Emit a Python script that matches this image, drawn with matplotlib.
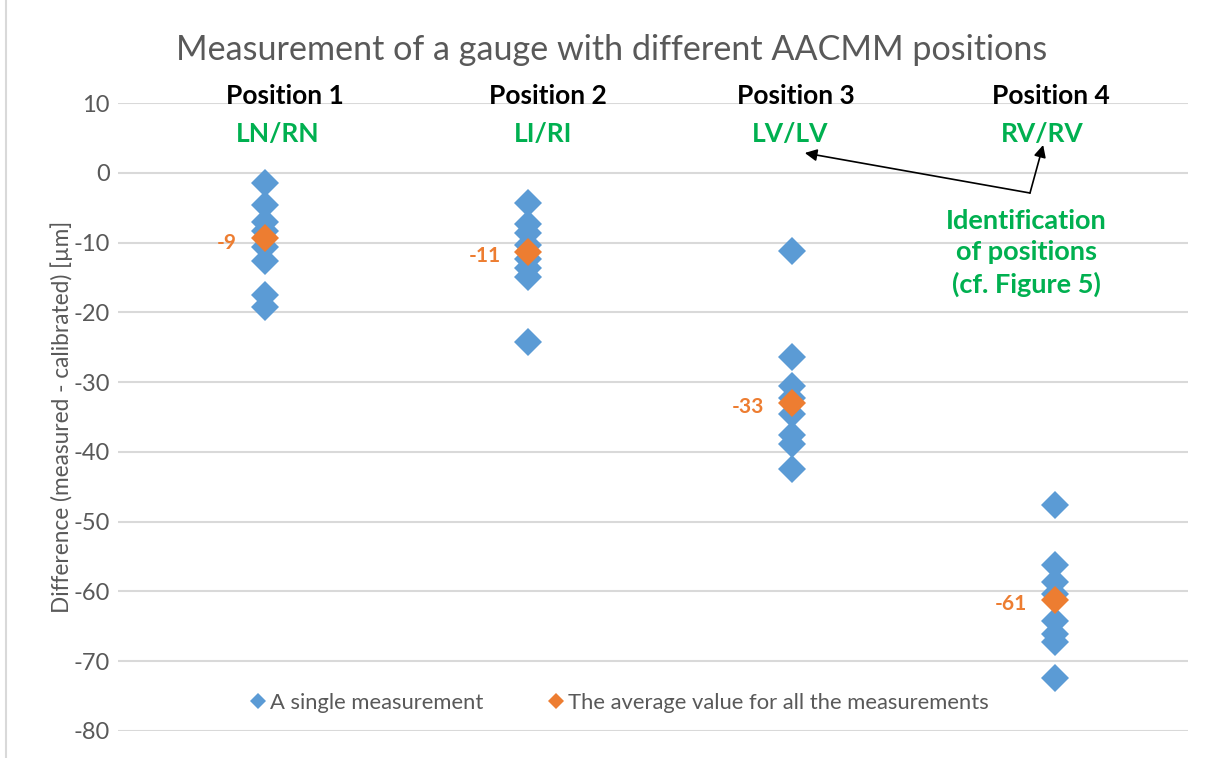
import matplotlib
matplotlib.use("Agg")
import matplotlib.pyplot as plt
from matplotlib.lines import Line2D

plt.rcParams['font.family'] = ['Lato', 'DejaVu Sans']

positions = [1, 2, 3, 4]
position_titles = ["Position 1", "Position 2", "Position 3", "Position 4"]
position_codes = ["LN/RN", "LI/RI", "LV/LV", "RV/RV"]

pos1 = [-1.5, -4.6, -7.0, -8.4, -10.6, -12.7, -17.5, -19.2]
pos2 = [-4.4, -7.4, -8.6, -10.3, -12.4, -13.6, -14.9, -24.2]
pos3 = [-11.2, -26.4, -30.5, -32.3, -34.6, -37.6, -38.8, -42.5]
pos4 = [-47.6, -56.2, -58.6, -60.3, -64.2, -66.1, -67.3, -72.4]
measurements = [pos1, pos2, pos3, pos4]

averages = [-9.4, -11.4, -33.0, -61.2]
average_labels = ["-9", "-11", "-33", "-61"]

yticks = [10, 0, -10, -20, -30, -40, -50, -60, -70, -80]

blue = "#5b9bd5"
orange = "#ed7d31"
green = "#00b050"
gray = "#595959"

fig = plt.figure(figsize=(12.12, 7.58), dpi=100)
ax = fig.add_axes([118/1212, 1-731/758, (1188-118)/1212, (731-103)/758])
ax.set_xlim(0.442, 4.505)
ax.set_ylim(-80, 10)
ax.set_yticks(yticks)
ax.set_yticklabels([str(t) for t in yticks], fontsize=17, color=gray)
ax.tick_params(axis='y', length=0, pad=6)
ax.set_xticks([])
for s in ax.spines.values():
    s.set_visible(False)
ax.grid(axis='y', color='#d9d9d9', linewidth=1.5)
ax.set_axisbelow(True)

for x, vals in zip(positions, measurements):
    ax.plot([x]*len(vals), vals, linestyle='none', marker='D', markersize=14.5,
            color=blue, markeredgewidth=0, zorder=3)
ax.plot(positions, averages, linestyle='none', marker='D', markersize=14.5,
        color=orange, markeredgewidth=0, zorder=4)
for x, v, lab in zip(positions, averages, average_labels):
    ax.annotate(lab, (x, v), xytext=(-20, -3), textcoords='offset points',
                ha='right', va='center', color=orange, fontsize=15, fontweight='bold')

title_x = [1.076, 2.075, 3.017, 3.985]
code_x = [1.05, 2.055, 2.995, 3.95]
for tx, cx, t, c in zip(title_x, code_x, position_titles, position_codes):
    ax.text(tx, 11.0, t, ha='center', va='center', fontsize=19, fontweight='bold', color='black')
    ax.text(cx, 5.6, c, ha='center', va='center', fontsize=19, fontweight='bold', color=green)

ax.text(3.89, -11.5, "Identification\nof positions\n(cf. Figure 5)", ha='center', va='center',
        fontsize=19.5, fontweight='bold', color=green, linespacing=1.37)

tail = (3.905, -2.9)
ax.annotate("", xy=(3.05, 2.84), xytext=tail,
            arrowprops=dict(arrowstyle='-|>', color='black', lw=1.2, mutation_scale=18, shrinkA=0, shrinkB=0))
ax.annotate("", xy=(3.955, 3.98), xytext=tail,
            arrowprops=dict(arrowstyle='-|>', color='black', lw=1.2, mutation_scale=18, shrinkA=0, shrinkB=0))

ax.set_ylabel("Difference (measured - calibrated) [µm]", fontsize=16.3, color=gray, labelpad=0)

handles = [Line2D([], [], linestyle='none', marker='D', markersize=8, color=blue, markeredgewidth=0),
           Line2D([], [], linestyle='none', marker='D', markersize=8, color=orange, markeredgewidth=0)]
ax.legend(handles, ["A single measurement", "The average value for all the measurements"],
          loc='center', bbox_to_anchor=(0.467, 0.045), ncol=2, frameon=False,
          fontsize=15.8, labelcolor=gray, handletextpad=0.05, columnspacing=2.8, handlelength=1.0)

fig.text(612/1212, 1-50/758, "Measurement of a gauge with different AACMM positions",
         ha='center', va='center', fontsize=24.6, color=gray)

fig.add_artist(Line2D([6/1212, 6/1212], [0, 1], color='#d9d9d9', lw=1.5))

fig.savefig("out.png", dpi=100)
